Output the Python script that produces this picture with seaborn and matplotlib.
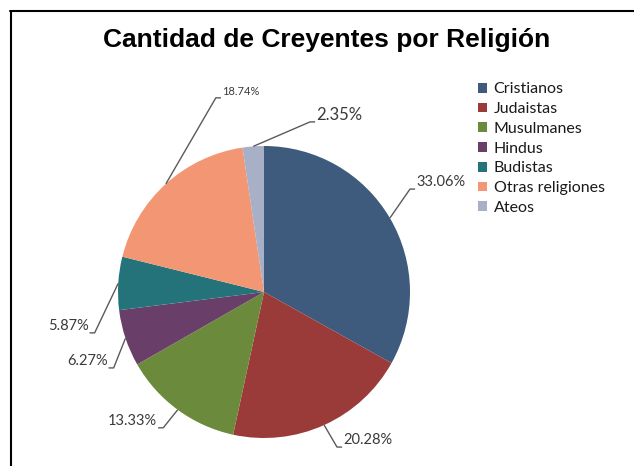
import matplotlib

matplotlib.use("Agg")

import matplotlib.pyplot as plt
import numpy as np
import seaborn as sns
from matplotlib.lines import Line2D
from matplotlib.patches import Patch

religions = ["Cristianos", "Judaistas", "Musulmanes", "Hindus", "Budistas", "Otras religiones", "Ateos"]
shares = [33.06, 20.28, 13.33, 6.27, 5.87, 18.74, 2.35]
colors = ["#3e5a7c", "#9a3b3a", "#6b8a3b", "#693f6a", "#24737a", "#f39673", "#a7b0c6"]

sns.set_theme(style="white")
plt.rcParams["font.family"] = ["Lato", "DejaVu Sans"]

W, H = 634, 466
fig = plt.figure(figsize=(W / 100, H / 100), dpi=100)
fig.patch.set_facecolor("white")

# pie box: centre (264, 292) px, radius 146 px
cx, cy, r = 264, 292, 146
ax = fig.add_axes([(cx - r) / W, 1 - (cy + r) / H, 2 * r / W, 2 * r / H])
wedges, _ = ax.pie(shares, colors=colors, startangle=90, counterclock=False,
                   radius=1, wedgeprops={"linewidth": 0})
ax.set_xlim(-1, 1)
ax.set_ylim(-1, 1)
ax.set_aspect("equal")
ax.axis("off")

# label layout: elbow point of leader line (radius units), side, font size
layout = [
    ((1.00, 0.705), "left", 10.5),
    ((0.50, -1.062), "left", 10.5),
    ((-0.69, -0.93), "right", 10.5),
    ((-1.03, -0.52), "right", 10.5),
    ((-1.16, -0.28), "right", 10.5),
    ((-0.33, 1.33), "left", 8),
    ((0.315, 1.165), "left", 12),
]

for w, val, ((ex, ey), side, fs) in zip(wedges, shares, layout):
    mid = np.deg2rad((w.theta1 + w.theta2) / 2)
    ax0, ay0 = np.cos(mid), np.sin(mid)
    dx = 0.035 if side == "left" else -0.035
    ax.plot([ax0, ex, ex + dx], [ay0, ey, ey], color="#5a5a5a", lw=1.0,
            clip_on=False, solid_capstyle="butt")
    ax.text(ex + dx * 1.2, ey + 0.045, f"{val:.2f}%", ha=side, va="center",
            fontsize=fs, color="#3a3a3a")

handles = [Patch(facecolor=c, edgecolor="none", label=l) for c, l in zip(colors, religions)]
fig.legend(handles=handles, loc="upper left", bbox_to_anchor=(472 / W, 1 - 76 / H),
           frameon=False, fontsize=11.5, handlelength=0.55, handleheight=0.55,
           handletextpad=0.4, labelspacing=0.36, borderaxespad=0,
           labelcolor="#1a1a1a")

fig.text(327 / W, 1 - 40 / H, "Cantidad de Creyentes por Religión", ha="center", va="center",
         fontsize=19, fontweight="bold", family="Liberation Sans", color="black")

# frame lines (left and top only, as in the source image)
fig.add_artist(Line2D([10.5 / W, 10.5 / W], [0, 1 - 11 / H], color="black", lw=1.5,
                      transform=fig.transFigure))
fig.add_artist(Line2D([10 / W, 1], [1 - 11 / H, 1 - 11 / H], color="black", lw=1.5,
                      transform=fig.transFigure))

fig.savefig("out.png", dpi=100)
